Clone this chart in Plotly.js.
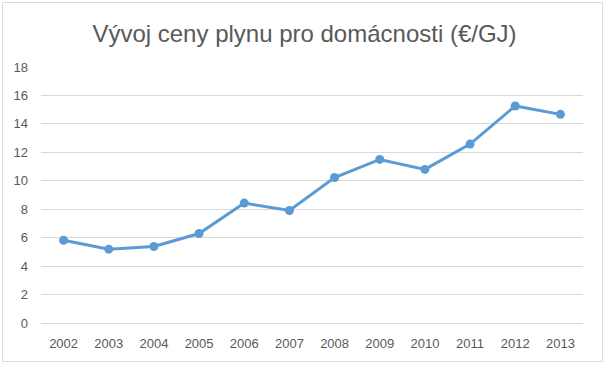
<!DOCTYPE html>
<html>
<head>
<meta charset="utf-8">
<script src="https://cdn.plot.ly/plotly-3.0.1.min.js"></script>
<style>
  html, body { margin: 0; padding: 0; background: #ffffff; }
  #chart { width: 609px; height: 370px; }
</style>
</head>
<body>
<div id="chart"></div>
<script>
const years = ["2002","2003","2004","2005","2006","2007","2008","2009","2010","2011","2012","2013"];
const prices = [5.82, 5.19, 5.38, 6.29, 8.43, 7.91, 10.23, 11.50, 10.80, 12.58, 15.26, 14.67];
const yTicks = [0, 2, 4, 6, 8, 10, 12, 14, 16, 18];
const chartTitle = "Vývoj ceny plynu pro domácnosti (€/GJ)";

const trace = {
  x: years,
  y: prices,
  type: "scatter",
  mode: "lines+markers",
  line: { color: "#5B9BD5", width: 3 },
  marker: { color: "#5B9BD5", size: 9 },
  hoverinfo: "x+y"
};

const layout = {
  width: 609,
  height: 370,
  margin: { l: 41, r: 26, t: 67, b: 47 },
  paper_bgcolor: "#ffffff",
  plot_bgcolor: "#ffffff",
  showlegend: false,
  font: { family: "Liberation Sans, Arial, sans-serif", color: "#595959", size: 13 },
  title: {
    text: chartTitle,
    font: { family: "Liberation Sans, Arial, sans-serif", size: 24, color: "#595959" },
    x: 0.5, xanchor: "center",
    y: 0.91, yanchor: "middle"
  },
  xaxis: {
    type: "category",
    range: [-0.5, years.length - 0.5],
    showgrid: false,
    showline: false,
    zeroline: false,
    ticks: "",
    ticklen: 0,
    ticklabelstandoff: 11,
    tickfont: { size: 13, color: "#595959" },
    automargin: false
  },
  yaxis: {
    range: [0, 18],
    tickvals: yTicks,
    showgrid: true,
    gridcolor: "#D9D9D9",
    gridwidth: 1,
    zeroline: true,
    zerolinecolor: "#D9D9D9",
    zerolinewidth: 1,
    showline: false,
    ticks: "",
    ticklabelstandoff: 12,
    tickfont: { size: 13, color: "#595959" },
    automargin: false
  },
  shapes: [{
    type: "rect",
    xref: "paper", yref: "paper",
    x0: (2.5 - 41) / 542, x1: (602.5 - 41) / 542,
    y0: (323 - 361.5) / 256, y1: (323 - 2.5) / 256,
    line: { color: "#D9D9D9", width: 1 },
    fillcolor: "rgba(0,0,0,0)",
    layer: "below"
  }]
};

Plotly.newPlot("chart", [trace], layout, { displayModeBar: false, staticPlot: true });
</script>
</body>
</html>
